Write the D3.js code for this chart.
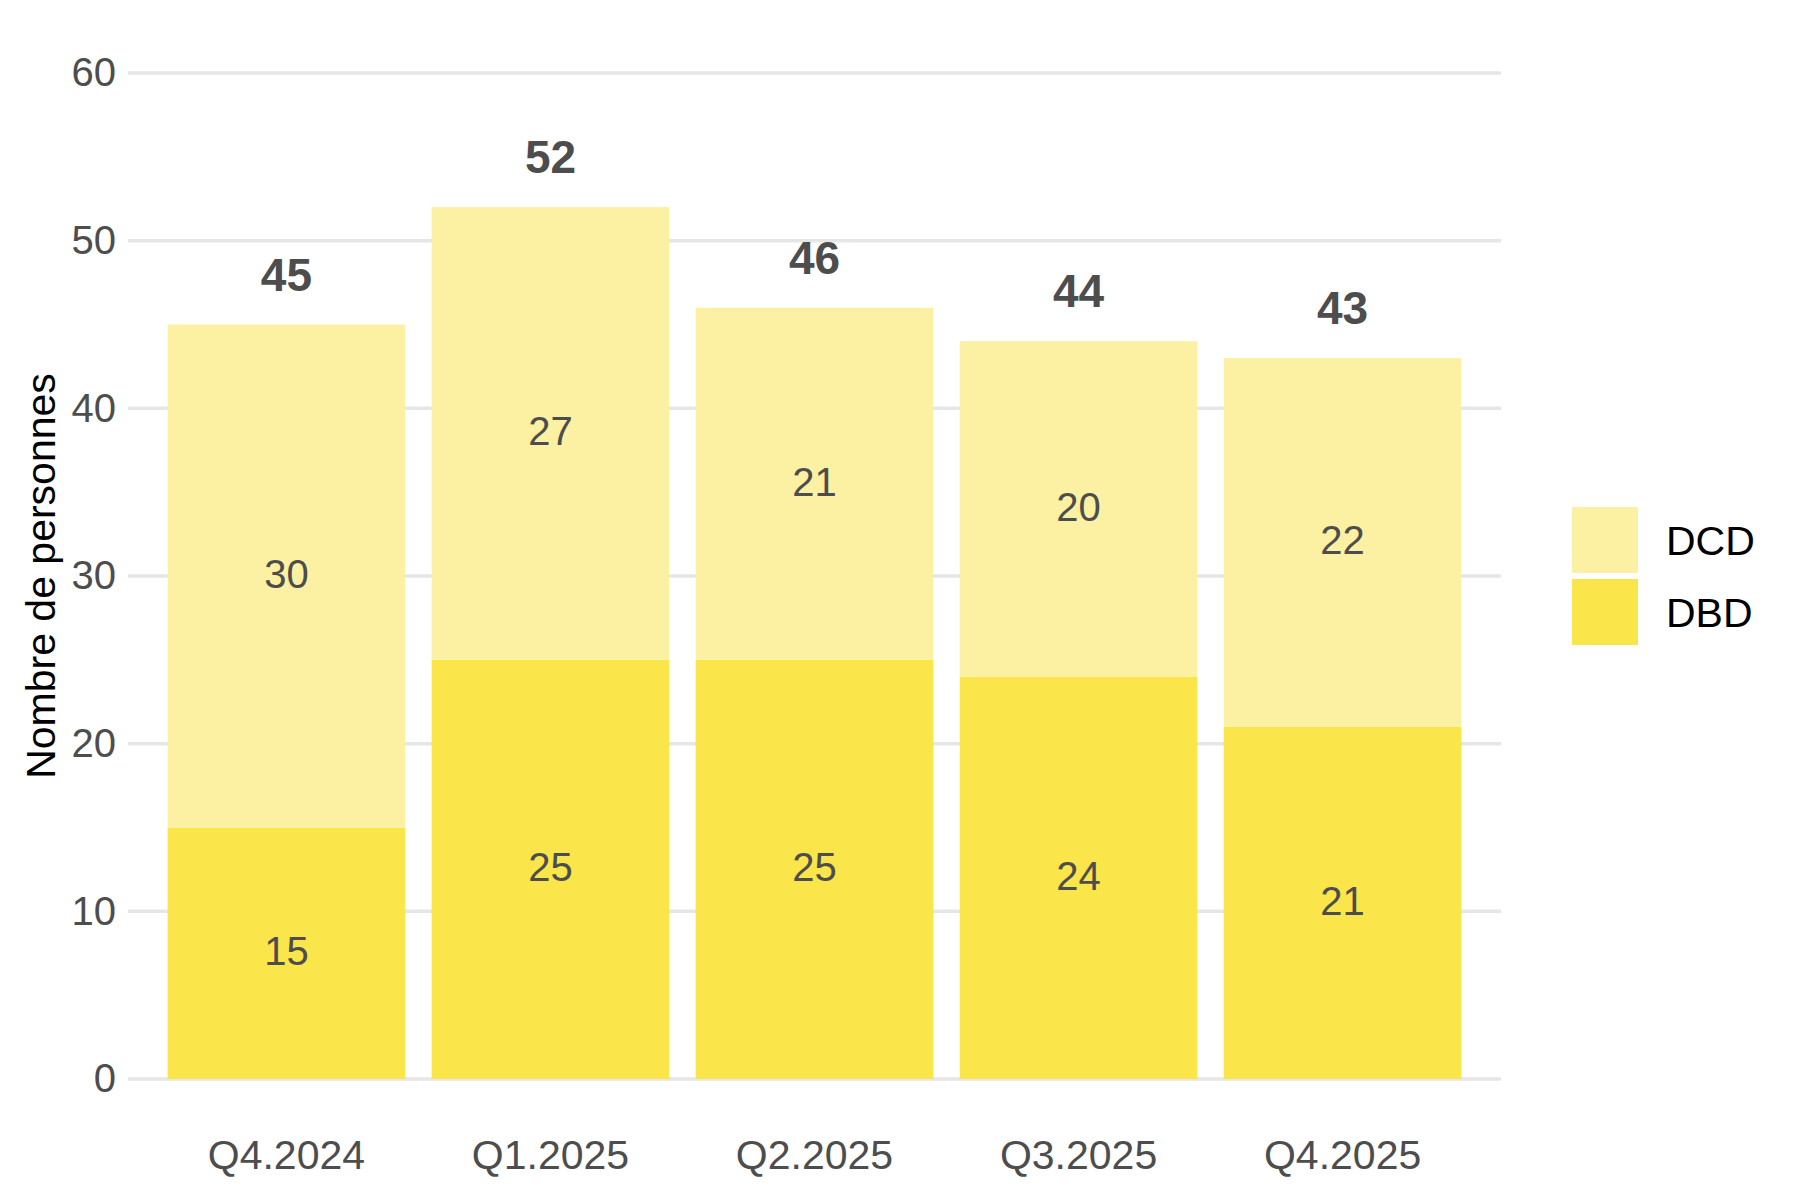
<!DOCTYPE html>
<html>
<head>
<meta charset="utf-8">
<script src="https://cdn.jsdelivr.net/npm/d3@7"></script>
<style>
  html, body { margin: 0; padding: 0; background: #fff; }
  svg { display: block; font-family: "Liberation Sans", Arial, sans-serif; }
</style>
</head>
<body>
<svg id="chart" width="1800" height="1200"></svg>
<script>
const categories = ["Q4.2024", "Q1.2025", "Q2.2025", "Q3.2025", "Q4.2025"];
const dbdValues = [15, 25, 25, 24, 21];
const dcdValues = [30, 27, 21, 20, 22];
const yTicks = [0, 10, 20, 30, 40, 50, 60];
const seriesNames = ["DCD", "DBD"];
const seriesColors = { DCD: "#FCF1A2", DBD: "#FAE54A" };
const yTitle = "Nombre de personnes";

const svg = d3.select("#chart");
const panel = { left: 128, right: 1501, top: 73, bottom: 1079 };
const unit = (panel.right - panel.left) / (categories.length + 0.2);

const x = d3.scaleBand()
  .domain(categories)
  .range([panel.left + 0.1 * unit, panel.right - 0.1 * unit])
  .paddingInner(0.1)
  .paddingOuter(0.05);

const y = d3.scaleLinear().domain([0, 60]).range([panel.bottom, panel.top]);

// gridlines
svg.append("g").selectAll("line").data(yTicks).join("line")
  .attr("x1", panel.left).attr("x2", panel.right)
  .attr("y1", d => y(d)).attr("y2", d => y(d))
  .attr("stroke", "#E6E6E6").attr("stroke-width", 3.5);

// y axis labels
const yAxis = d3.axisLeft(y).tickValues(yTicks).tickSize(0).tickPadding(12);
const yg = svg.append("g").attr("transform", `translate(${panel.left},0)`).call(yAxis);
yg.select(".domain").remove();
yg.selectAll("text").attr("font-size", 40).attr("fill", "#4D4D4D")
  .attr("font-family", "Liberation Sans, Arial, sans-serif");

// x axis labels
const xAxis = d3.axisBottom(x).tickSize(0).tickPadding(0);
const xg = svg.append("g").attr("transform", `translate(0,1140)`).call(xAxis);
xg.select(".domain").remove();
xg.selectAll("text").attr("font-size", 41).attr("fill", "#4D4D4D")
  .attr("font-family", "Liberation Sans, Arial, sans-serif")
  .attr("dy", "0.71em");

// stacked data
const rows = categories.map((c, i) => ({ cat: c, DBD: dbdValues[i], DCD: dcdValues[i] }));
const stack = d3.stack().keys(["DBD", "DCD"])(rows);

const layers = svg.append("g").selectAll("g").data(stack).join("g")
  .attr("fill", d => seriesColors[d.key]);
layers.selectAll("rect").data(d => d).join("rect")
  .attr("x", d => x(d.data.cat))
  .attr("width", x.bandwidth())
  .attr("y", d => y(d[1]))
  .attr("height", d => y(d[0]) - y(d[1]));

// segment labels
const labels = svg.append("g");
stack.forEach(layer => {
  labels.selectAll(null).data(layer).join("text")
    .attr("x", d => x(d.data.cat) + x.bandwidth() / 2)
    .attr("y", d => y((d[0] + d[1]) / 2))
    .attr("dy", "0.3em")
    .attr("text-anchor", "middle")
    .attr("font-size", 40)
    .attr("fill", "#4D4D4D")
    .text(d => d[1] - d[0]);
});

// total labels
svg.append("g").selectAll("text").data(rows).join("text")
  .attr("x", d => x(d.cat) + x.bandwidth() / 2)
  .attr("y", d => y(d.DBD + d.DCD) - 34)
  .attr("text-anchor", "middle")
  .attr("font-size", 46)
  .attr("font-weight", "bold")
  .attr("fill", "#4D4D4D")
  .text(d => d.DBD + d.DCD);

// y title
svg.append("text")
  .attr("transform", `translate(40,${(panel.top + panel.bottom) / 2}) rotate(-90)`)
  .attr("dy", "0.36em")
  .attr("text-anchor", "middle")
  .attr("font-size", 41)
  .attr("fill", "#000")
  .text(yTitle);

// legend
const legend = svg.append("g");
seriesNames.forEach((name, i) => {
  const top = 507 + i * 72;
  legend.append("rect").attr("x", 1572).attr("y", top)
    .attr("width", 66).attr("height", 66)
    .attr("fill", seriesColors[name]);
  legend.append("text").attr("x", 1666).attr("y", top + 33)
    .attr("dy", "0.36em")
    .attr("font-size", 41).attr("fill", "#000")
    .text(name);
});
</script>
</body>
</html>
